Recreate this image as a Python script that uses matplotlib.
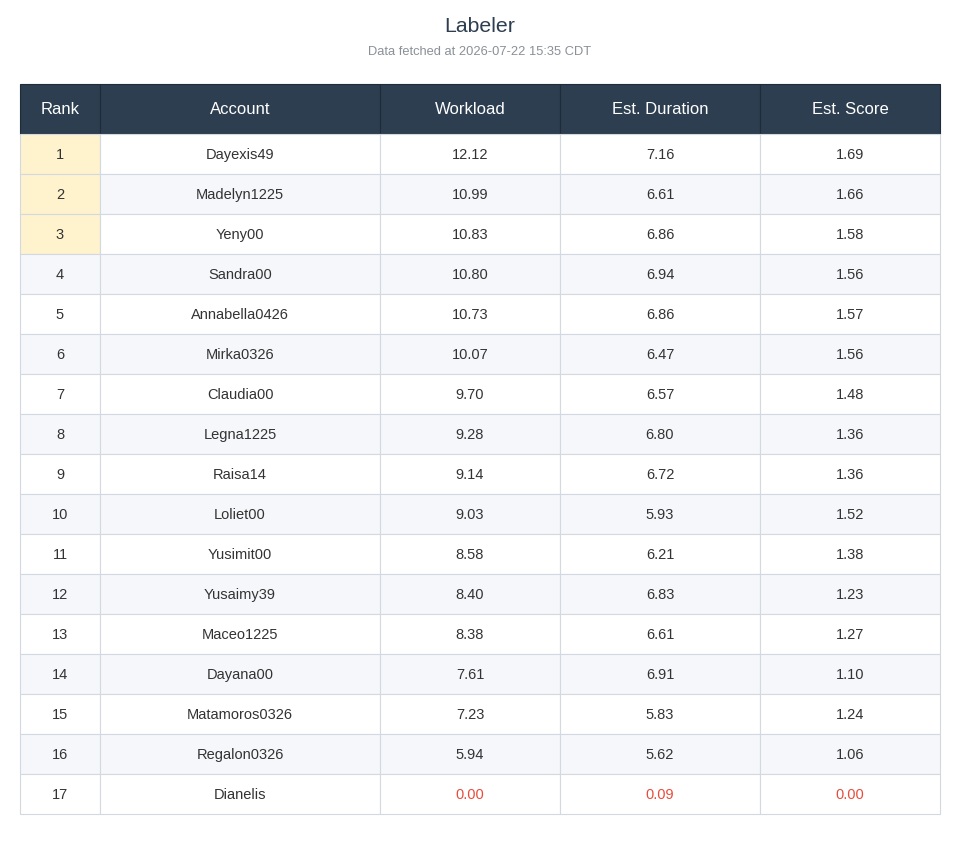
import matplotlib.pyplot as plt
from matplotlib.patches import Rectangle

plt.rcParams['font.family'] = ['Liberation Sans', 'DejaVu Sans']

# Table data
columns = ['Rank', 'Account', 'Workload', 'Est. Duration', 'Est. Score']
accounts = ['Dayexis49', 'Madelyn1225', 'Yeny00', 'Sandra00', 'Annabella0426',
            'Mirka0326', 'Claudia00', 'Legna1225', 'Raisa14', 'Loliet00',
            'Yusimit00', 'Yusaimy39', 'Maceo1225', 'Dayana00', 'Matamoros0326',
            'Regalon0326', 'Dianelis']
workload = [12.12, 10.99, 10.83, 10.80, 10.73, 10.07, 9.70, 9.28, 9.14, 9.03,
            8.58, 8.40, 8.38, 7.61, 7.23, 5.94, 0.00]
duration = [7.16, 6.61, 6.86, 6.94, 6.86, 6.47, 6.57, 6.80, 6.72, 5.93,
            6.21, 6.83, 6.61, 6.91, 5.83, 5.62, 0.09]
score = [1.69, 1.66, 1.58, 1.56, 1.57, 1.56, 1.48, 1.36, 1.36, 1.52,
         1.38, 1.23, 1.27, 1.10, 1.24, 1.06, 0.00]

# Layout (pixels)
col_edges = [20, 100, 380, 560, 760, 940]
header_top, header_h, row_h = 85, 50, 40

header_bg = '#2c3e50'
stripe_bg = '#f5f7fa'
top3_bg = '#fff3cd'
border = '#d3d9e0'
text_c = '#333333'
red_c = '#e74c3c'

fig = plt.figure(figsize=(9.6, 8.45), dpi=100)
ax = fig.add_axes([0, 0, 1, 1])
ax.set_xlim(0, 960)
ax.set_ylim(845, 0)
ax.axis('off')

ax.text(480, 27, 'Labeler', ha='center', va='center', fontsize=15.3, color='#2c3e50')
ax.text(480, 52, 'Data fetched at 2026-07-22 15:35 CDT', ha='center', va='center',
        fontsize=9.3, color='#8a9097')

# Header
for i, name in enumerate(columns):
    x0, x1 = col_edges[i], col_edges[i + 1]
    ax.add_patch(Rectangle((x0, header_top), x1 - x0, header_h, facecolor=header_bg,
                           edgecolor='#1f2b38', linewidth=0.8))
    ax.text((x0 + x1) / 2, header_top + header_h / 2, name, ha='center', va='center',
            fontsize=12, color='white')

# Body rows
for r in range(len(accounts)):
    y0 = header_top + header_h + r * row_h
    row_bg = stripe_bg if r % 2 == 1 else 'white'
    vals = [str(r + 1), accounts[r], f'{workload[r]:.2f}', f'{duration[r]:.2f}', f'{score[r]:.2f}']
    for i, v in enumerate(vals):
        x0, x1 = col_edges[i], col_edges[i + 1]
        bg = top3_bg if (i == 0 and r < 3) else row_bg
        ax.add_patch(Rectangle((x0, y0), x1 - x0, row_h, facecolor=bg,
                               edgecolor=border, linewidth=0.8))
        c = red_c if (i >= 2 and float(v) < 1.0) else text_c
        ax.text((x0 + x1) / 2, y0 + row_h / 2, v, ha='center', va='center',
                fontsize=10.5, color=c)

fig.savefig('out.png', dpi=100)
